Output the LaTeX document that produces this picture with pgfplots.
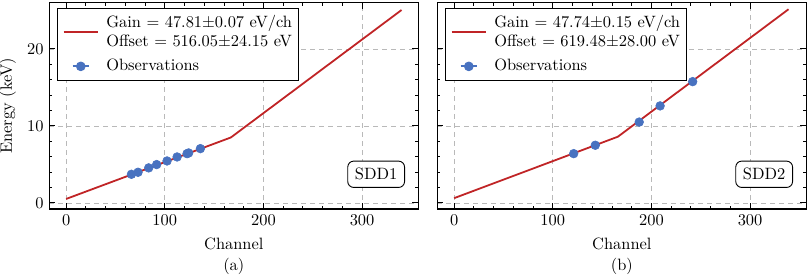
\documentclass[border=0pt]{standalone}
\usepackage{pgfplots}
\pgfplotsset{compat=1.18}
\definecolor{fitred}{RGB}{192,36,38}
\definecolor{obsblue}{RGB}{72,114,192}

\pgfplotstableread{
x y
66.2 3.72
72.9 3.98
83.7 4.55
91.8 4.98
102.3 5.45
112.5 5.97
122.6 6.40
124.2 6.49
136.1 7.05
}\obsA
\pgfplotstableread{
x y
121.2 6.40
143.1 7.49
187.6 10.50
208.8 12.60
241.8 15.75
}\obsB

\tikzset{sddbox/.style={draw=black, line width=0.6pt, rounded corners=4pt, fill=white,
   anchor=south east, inner sep=4.8pt}}

\pgfplotsset{
 myax/.style={
  scale only axis, width=246pt, height=137.5pt,
  xmin=-17, xmax=357, ymin=-0.78, ymax=26.0,
  xtick={0,100,200,300}, ytick={0,10,20},
  minor x tick num=4, minor y tick num=4,
  tick align=inside, tick pos=both,
  major tick length=4pt, minor tick length=2pt,
  every tick/.style={black, line width=0.6pt},
  axis line style={line width=0.8pt},
  grid=major, major grid style={dashed, gray!55, line width=0.4pt},
  xlabel style={align=center, yshift=-1pt},
  legend style={at={(0.021,0.973)}, anchor=north west, draw=black,
     line width=0.6pt, legend cell align=left, inner sep=2.5pt,
     row sep=3pt},
 },
 obsleg/.style={legend image code/.code={
   \path[draw=none, fill=none] (0pt,0pt) rectangle (28pt,0.1pt);
   \draw[obsblue, line width=1.2pt] (7.5pt,0pt) -- (18.5pt,0pt);
   \fill[obsblue] (13pt,0pt) circle (2.9pt);}},
 fitleg/.style={legend image code/.code={
   \path[draw=none, fill=none] (0pt,0pt) rectangle (28pt,0.1pt);
   \draw[fitred, line width=1.2pt] (1.5pt,0pt) -- (24.5pt,0pt);}},
}

\begin{document}
\fontsize{10.95}{13.6}\selectfont
\begin{tikzpicture}
\begin{axis}[myax, name=A, xlabel={Channel\\(a)}, ylabel={Energy (keV)}]
\addplot[fitred, line width=1.2pt, fitleg] coordinates {(0,0.516) (167,8.5) (340,25.05)};
\addlegendentry[align=left, font=\fontsize{10.95}{12.4}\selectfont]{Gain = 47.81$\pm$0.07 eV/ch\\Offset = 516.05$\pm$24.15 eV}
\addplot[only marks, mark=*, mark size=2.9pt, obsblue, mark options={draw=obsblue, fill=obsblue}, obsleg] table {\obsA};
\addlegendentry{Observations}
\node[sddbox] at (rel axis cs:0.964,0.102) {SDD1};
\end{axis}
\begin{axis}[myax, name=B, xshift=258.7pt, xlabel={Channel\\(b)}, yticklabels={}]
\addplot[fitred, line width=1.2pt, fitleg] coordinates {(0,0.62) (166,8.6) (339,25.15)};
\addlegendentry[align=left, font=\fontsize{10.95}{12.4}\selectfont]{Gain = 47.74$\pm$0.15 eV/ch\\Offset = 619.48$\pm$28.00 eV}
\addplot[only marks, mark=*, mark size=2.9pt, obsblue, mark options={draw=obsblue, fill=obsblue}, obsleg] table {\obsB};
\addlegendentry{Observations}
\node[sddbox] at (rel axis cs:0.964,0.102) {SDD2};
\end{axis}
\pgfresetboundingbox
\path[use as bounding box] (-32.9pt,-44pt) rectangle (506.5pt,139.3pt);
\end{tikzpicture}
\end{document}
